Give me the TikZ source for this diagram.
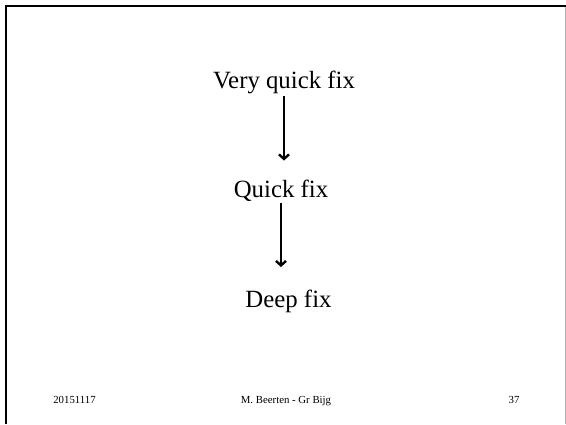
\documentclass[tikz,border=0pt]{standalone}
\usepackage{fontspec}
\setmainfont{Liberation Serif}
\usetikzlibrary{arrows.meta}
\begin{document}
\begin{tikzpicture}[x=1pt,y=-1pt,
  big/.style={font=\fontsize{24.8}{28}\selectfont, inner sep=0pt, outer sep=0pt, anchor=base},
  foot/.style={font=\fontsize{10.8}{13}\selectfont, inner sep=0pt, anchor=base},
  arr/.style={line width=2pt, -{Straight Barb[length=4.5pt,width=10pt,line width=2.4pt]}}]
\useasboundingbox (0,0) rectangle (566,424);
\draw[line width=2.4pt] (6,424) -- (6,6) -- (566,6);
\draw[gray!60, line width=1pt] (565,7) -- (565,424);
\node[big] (a) at (284,88) {Very quick fix};
\node[big] (b) at (281,197) {Quick fix};
\node[big] (c) at (288.5,307) {Deep fix};
\draw[arr, shorten <=3pt, shorten >=19pt] (a.south) -- (a.south |- b.north);
\draw[arr, shorten <=2pt, shorten >=22.5pt] (b.south) -- (b.south |- c.north);
\node[foot] (d) at (74.5,403) {20151117};
\node[foot] (m) at (286,403) {M. Beerten - Gr Bijg};
\node[foot] (n) at (514,403) {37};
\end{tikzpicture}
\end{document}
